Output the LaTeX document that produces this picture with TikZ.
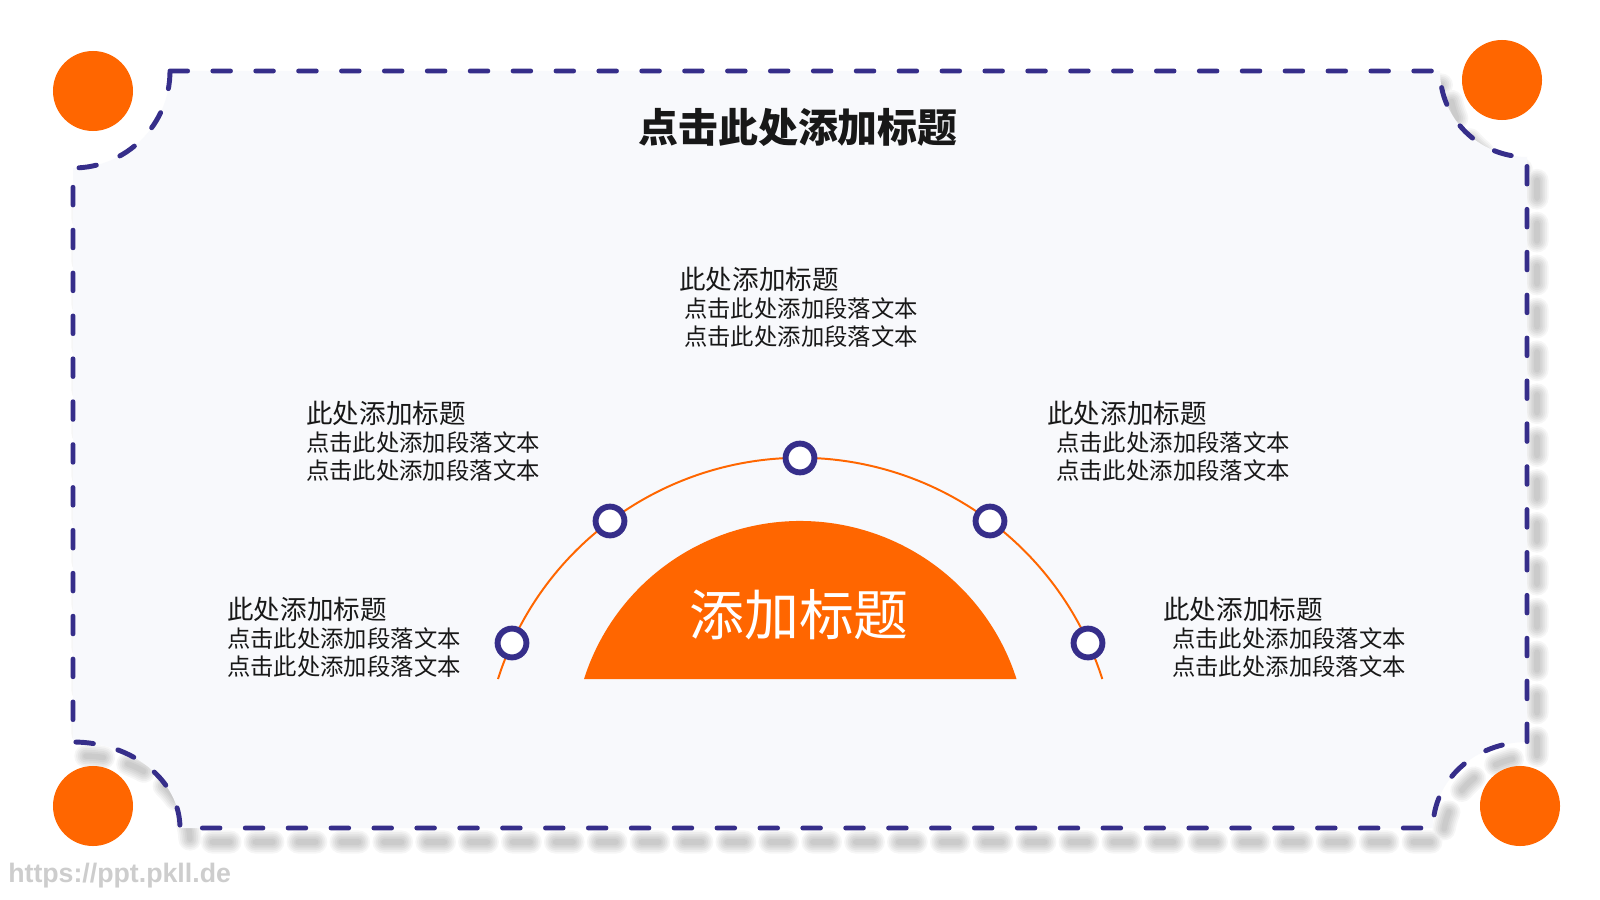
\documentclass[tikz,border=0pt]{standalone}
\usepackage{fontspec}
\setmainfont{Noto Sans CJK SC}
\newfontfamily\wmfont{Liberation Sans}
\definecolor{chengse}{RGB}{255,102,0}
\definecolor{dianlan}{RGB}{54,46,138}
\definecolor{dise}{RGB}{248,249,252}
\definecolor{zise}{RGB}{24,24,24}
\definecolor{shuiyin}{RGB}{205,205,205}

% frame outline with concave corners (pixel coordinates, y down)
\newcommand{\kuanglu}{(170,71) -- (1440,71)
    arc[start angle=180, end angle=90, x radius=87, y radius=86]
    -- (1527,742)
    arc[start angle=270, end angle=180, x radius=94, y radius=86]
    -- (180,828)
    arc[start angle=0, end angle=-90, x radius=107, y radius=86]
    -- (73,168)
    arc[start angle=90, end angle=0, radius=97]
    -- cycle}

\begin{document}
\begin{tikzpicture}[
    x=0.025cm, y=-0.025cm,
    xuxian/.style={
        draw=dianlan,
        line width=3.5pt,
        line cap=round,
        dash pattern=on 12.5pt off 18pt
    },
    yingzi/.style={
        draw=black,
        draw opacity=0.035,
        line cap=round,
        dash pattern=on 12.5pt off 18pt
    },
    jiao/.style={
        circle,
        fill=chengse,
        inner sep=0pt,
        minimum size=2cm
    },
    huan/.style={
        circle,
        draw=dianlan,
        fill=white,
        line width=4.2pt,
        inner sep=0pt,
        minimum size=0.72cm
    },
    biaoti/.style={
        font=\fontsize{28.4}{33}\selectfont\bfseries,
        text=zise,
        inner sep=0pt
    },
    xiaobiao/.style={
        anchor=west,
        font=\fontsize{18.9}{22}\selectfont,
        text=zise,
        inner sep=0pt
    },
    zhengwen/.style={
        anchor=west,
        align=left,
        font=\fontsize{16.6}{20.3}\selectfont,
        text=zise,
        inner sep=0pt
    }
]

\fill[white] (0,0) rectangle (1600,900);
\useasboundingbox (0,0) rectangle (1600,900);

% ---------------- kuang ----------------
\foreach \w in {4,6.5,9,11.5,14,16.5} {
    \draw[yingzi, line width=\w pt, shift={(10,14)}] \kuanglu;
}
\fill[dise] \kuanglu;
\draw[xuxian] \kuanglu;

\node[jiao] (jiao1) at (93,91) {};
\node[jiao] (jiao2) at (1502,80) {};
\node[jiao] (jiao3) at (93,806) {};
\node[jiao] (jiao4) at (1520,806) {};

\node[biaoti] (title) at (798,127) {点击此处添加标题};

% ---------------- banyuan ----------------
\fill[chengse] (584,679) arc[start angle=197.7, end angle=342.3, radius=227] -- cycle;
\node[text=white, font=\fontsize{39}{44}\selectfont, inner sep=0pt] (zhongxin) at (799,615) {添加标题};

\draw[chengse, line width=1.4pt] (498,679) arc[start angle=197.6, end angle=342.4, radius=317];

\node[huan] (h1) at (512,643) {};
\node[huan] (h2) at (610,521) {};
\node[huan] (h3) at (800,458) {};
\node[huan] (h4) at (990,521) {};
\node[huan] (h5) at (1088,643) {};

% ---------------- wenzi ----------------
\node[xiaobiao] (t3) at (679,279) {此处添加标题};
\node[zhengwen] (w3) at (684,322.5) {点击此处添加段落文本\\点击此处添加段落文本};

\node[xiaobiao] (t2) at (306,413) {此处添加标题};
\node[zhengwen] (w2) at (306,456.5) {点击此处添加段落文本\\点击此处添加段落文本};

\node[xiaobiao] (t4) at (1047,413) {此处添加标题};
\node[zhengwen] (w4) at (1056,456.5) {点击此处添加段落文本\\点击此处添加段落文本};

\node[xiaobiao] (t1) at (227,609) {此处添加标题};
\node[zhengwen] (w1) at (227,652.5) {点击此处添加段落文本\\点击此处添加段落文本};

\node[xiaobiao] (t5) at (1163,609) {此处添加标题};
\node[zhengwen] (w5) at (1172,652.5) {点击此处添加段落文本\\点击此处添加段落文本};

\node[anchor=west, text=shuiyin, inner sep=0pt, font=\wmfont\bfseries\fontsize{19}{23}\selectfont] (shuiyin) at (8,876) {https://ppt.pkll.de};

\end{tikzpicture}
\end{document}
